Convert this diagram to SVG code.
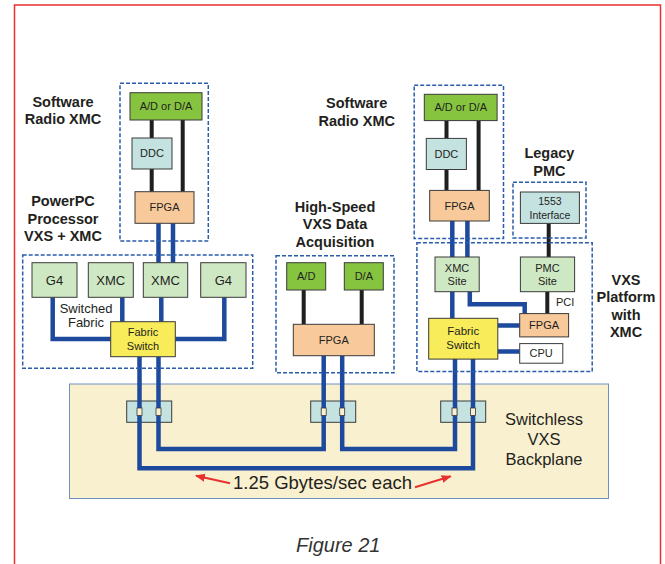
<svg xmlns="http://www.w3.org/2000/svg" width="665" height="564" viewBox="0 0 665 564">
<defs>
<style>
.bx{stroke:#3a3a3a;stroke-width:1}
.grn{fill:#86c440}.teal{fill:#c3e2e0}.peach{fill:#f8c99a}.lg{fill:#cfe8c4}.yel{fill:#f9ec5a}.wht{fill:#fff}
.dash{fill:none;stroke:#2a5caa;stroke-width:1.5;stroke-dasharray:4 2}
.blk{fill:none;stroke:#1f1f1f;stroke-width:4}
.blu{fill:none;stroke:#1d4a9c;stroke-width:4.5}
.red{fill:none;stroke:#e8312f;stroke-width:2}
text{font-family:"Liberation Sans",Arial,sans-serif;fill:#231f20;text-anchor:middle}
.lbl{font-weight:bold;font-size:14.5px}
.t11{font-size:11px}.t13{font-size:13px}
.sq{fill:#f8f0d0;stroke:#3a3a3a;stroke-width:0.8}
</style>
<marker id="ah" viewBox="0 0 10 10" refX="9" refY="5" markerWidth="5" markerHeight="5" orient="auto" markerUnits="strokeWidth">
<path d="M0,1 L10,5 L0,9 z" fill="#e8312f"/>
</marker>
</defs>
<rect width="665" height="564" fill="#fff"/>
<path d="M14.5,564 V5 H660.5 V564" fill="none" stroke="#e8312f" stroke-width="1.5"/>

<g id="backplane">
<rect x="69.5" y="384" width="539" height="114.5" fill="#f9f0cf" stroke="#7090c0" stroke-width="1"/>
<rect class="bx teal" x="126.7" y="401" width="45" height="21.3"/>
<rect class="bx teal" x="310.7" y="401" width="45" height="21.3"/>
<rect class="bx teal" x="440.7" y="401" width="45" height="21.3"/>
<text x="544" y="425" style="font-size:16.5px">Switchless</text>
<text x="544" y="445.3" style="font-size:16.5px">VXS</text>
<text x="544" y="465.3" style="font-size:16.5px">Backplane</text>
</g>

<g id="connectors">
<path class="blk" d="M151.7,120 V138 M151.7,169 V191.7 M182.7,120 V191.7"/>
<path class="blu" d="M158.5,223.3 V262.7 M173,223.3 V262.7"/>
<path class="blu" d="M52.7,297.3 V339 H110.7 M122.3,297.3 V321.7 M161.3,297.3 V321.7 M224.3,297.3 V339 H175.3"/>
<path class="blk" d="M303.7,290 V324.3 M361.7,290 V324.3"/>
<path class="blk" d="M446.5,120.6 V138.4 M446.5,169.5 V190.4 M478.6,120.6 V190.4"/>
<path class="blu" d="M452.3,221 V257 M467.4,221 V257"/>
<path class="blk" d="M548.7,223.4 V257 M547.3,291.7 V313.6"/>
<path class="blu" d="M452.3,291.7 V318.3 M469.8,291.7 V304.2 H524.7 V313.6 M497.8,325.4 H519.7 M497.8,351.4 H519.7"/>
<path class="blu" d="M139.5,356.7 V468.3 H473 V359.1"/>
<path class="blu" d="M158.5,356.7 V449 H323.7 V355.7"/>
<path class="blu" d="M342.2,355.7 V449 H455 V359.1"/>
<path class="red" d="M230,483.3 L196,475.8" marker-end="url(#ah)"/>
<path class="red" d="M415,487.3 L450.7,476.3" marker-end="url(#ah)"/>
</g>

<g id="bp-ports">
<rect class="sq" x="137" y="408" width="5" height="7.5"/>
<rect class="sq" x="156" y="408" width="5" height="7.5"/>
<rect class="sq" x="321.2" y="408" width="5" height="7.5"/>
<rect class="sq" x="339.7" y="408" width="5" height="7.5"/>
<rect class="sq" x="452" y="408" width="5" height="7.5"/>
<rect class="sq" x="470.5" y="408" width="5" height="7.5"/>
</g>

<g id="sr1">
<rect class="dash" x="120" y="83.3" width="88.3" height="157.7"/>
<text class="lbl" x="63" y="106.5">Software</text>
<text class="lbl" x="63" y="124">Radio XMC</text>
</g>
<g id="sr1-adda"><rect class="bx grn" x="130" y="92.7" width="72" height="27.3"/><text class="t11" x="166" y="110.2">A/D or D/A</text></g>
<g id="sr1-ddc"><rect class="bx teal" x="132" y="138" width="40" height="31"/><text class="t11" x="152" y="157.4">DDC</text></g>
<g id="sr1-fpga"><rect class="bx peach" x="135" y="191.7" width="59" height="31.6"/><text class="t11" x="164.5" y="211.4">FPGA</text></g>

<g id="ppc">
<rect class="dash" x="22.7" y="255" width="230" height="113.3"/>
<text class="lbl" x="63" y="206">PowerPC</text>
<text class="lbl" x="63" y="223.5">Processor</text>
<text class="lbl" x="63" y="241">VXS + XMC</text>
<text class="t13" x="86" y="312.5">Switched</text>
<text class="t13" x="86" y="326.5">Fabric</text>
</g>
<g id="ppc-g4a"><rect class="bx lg" x="32" y="262.7" width="45" height="34.6"/><text class="t13" x="54.5" y="284.6">G4</text></g>
<g id="ppc-xmc1"><rect class="bx lg" x="88.3" y="262.7" width="45" height="34.6"/><text class="t13" x="110.8" y="284.6">XMC</text></g>
<g id="ppc-xmc2"><rect class="bx lg" x="143.3" y="262.7" width="44.4" height="34.6"/><text class="t13" x="165.5" y="284.6">XMC</text></g>
<g id="ppc-g4b"><rect class="bx lg" x="200.7" y="262.7" width="45.3" height="34.6"/><text class="t13" x="223.3" y="284.6">G4</text></g>
<g id="ppc-switch"><rect class="bx yel" x="110.7" y="321.7" width="64.6" height="35"/><text class="t11" x="143" y="336">Fabric</text><text class="t11" x="143" y="349.5">Switch</text></g>

<g id="hs">
<rect class="dash" x="276" y="255.7" width="118" height="117"/>
<text class="lbl" x="335" y="211.5">High-Speed</text>
<text class="lbl" x="335" y="229">VXS Data</text>
<text class="lbl" x="335" y="246.5">Acquisition</text>
</g>
<g id="hs-ad"><rect class="bx grn" x="286.7" y="262.7" width="39" height="27.3"/><text class="t11" x="306.2" y="280.2">A/D</text></g>
<g id="hs-da"><rect class="bx grn" x="344.3" y="262.7" width="39" height="27.3"/><text class="t11" x="363.8" y="280.2">D/A</text></g>
<g id="hs-fpga"><rect class="bx peach" x="293.3" y="324.3" width="81" height="31.4"/><text class="t11" x="333.8" y="344">FPGA</text></g>

<g id="sr2">
<rect class="dash" x="414.2" y="85.2" width="89.3" height="153.4"/>
<text class="lbl" x="356.7" y="108.3">Software</text>
<text class="lbl" x="356.7" y="125.8">Radio XMC</text>
</g>
<g id="sr2-adda"><rect class="bx grn" x="424.3" y="94.3" width="72.8" height="26.3"/><text class="t11" x="460.7" y="111.4">A/D or D/A</text></g>
<g id="sr2-ddc"><rect class="bx teal" x="426.3" y="138.4" width="40.1" height="31.1"/><text class="t11" x="446.4" y="157.9">DDC</text></g>
<g id="sr2-fpga"><rect class="bx peach" x="429.7" y="190.4" width="59.6" height="30.6"/><text class="t11" x="459.5" y="209.6">FPGA</text></g>

<g id="legacy">
<rect class="dash" x="513" y="182.3" width="73" height="55.6"/>
<text class="lbl" x="549.4" y="158.3">Legacy</text>
<text class="lbl" x="549.4" y="175.5">PMC</text>
</g>
<g id="legacy-1553"><rect class="bx teal" x="520.4" y="192" width="59" height="31.4"/><text x="549.9" y="205" style="font-size:10.5px">1553</text><text x="549.9" y="218.5" style="font-size:10.5px">Interface</text></g>

<g id="vxs">
<rect class="dash" x="416.9" y="242.8" width="175.3" height="128.8"/>
<text class="lbl" x="626" y="284.5">VXS</text>
<text class="lbl" x="626" y="302">Platform</text>
<text class="lbl" x="626" y="319.5">with</text>
<text class="lbl" x="626" y="337">XMC</text>
<text class="t11" x="565.2" y="305.8">PCI</text>
</g>
<g id="vxs-xmc"><rect class="bx lg" x="435" y="257" width="44.2" height="34.7"/><text class="t11" x="457.1" y="271.5">XMC</text><text class="t11" x="457.1" y="285">Site</text></g>
<g id="vxs-pmc"><rect class="bx lg" x="520.4" y="257" width="54.2" height="34.7"/><text class="t11" x="547.5" y="271.5">PMC</text><text class="t11" x="547.5" y="285">Site</text></g>
<g id="vxs-switch"><rect class="bx yel" x="428.7" y="318.3" width="69.1" height="40.8"/><text x="463.2" y="334.5" style="font-size:11.5px">Fabric</text><text x="463.2" y="349" style="font-size:11.5px">Switch</text></g>
<g id="vxs-fpga"><rect class="bx peach" x="519.7" y="313.6" width="48.9" height="23.3"/><text class="t11" x="544.1" y="329.2">FPGA</text></g>
<g id="vxs-cpu"><rect class="bx wht" x="519.7" y="343.6" width="43.1" height="19.6"/><text class="t11" x="541.2" y="357.3">CPU</text></g>

<text x="322.5" y="489" style="font-size:18.5px">1.25 Gbytes/sec each</text>
<text x="296" y="551.7" style="font-size:20px;font-style:italic;text-anchor:start;fill:#333">Figure 21</text>
</svg>
